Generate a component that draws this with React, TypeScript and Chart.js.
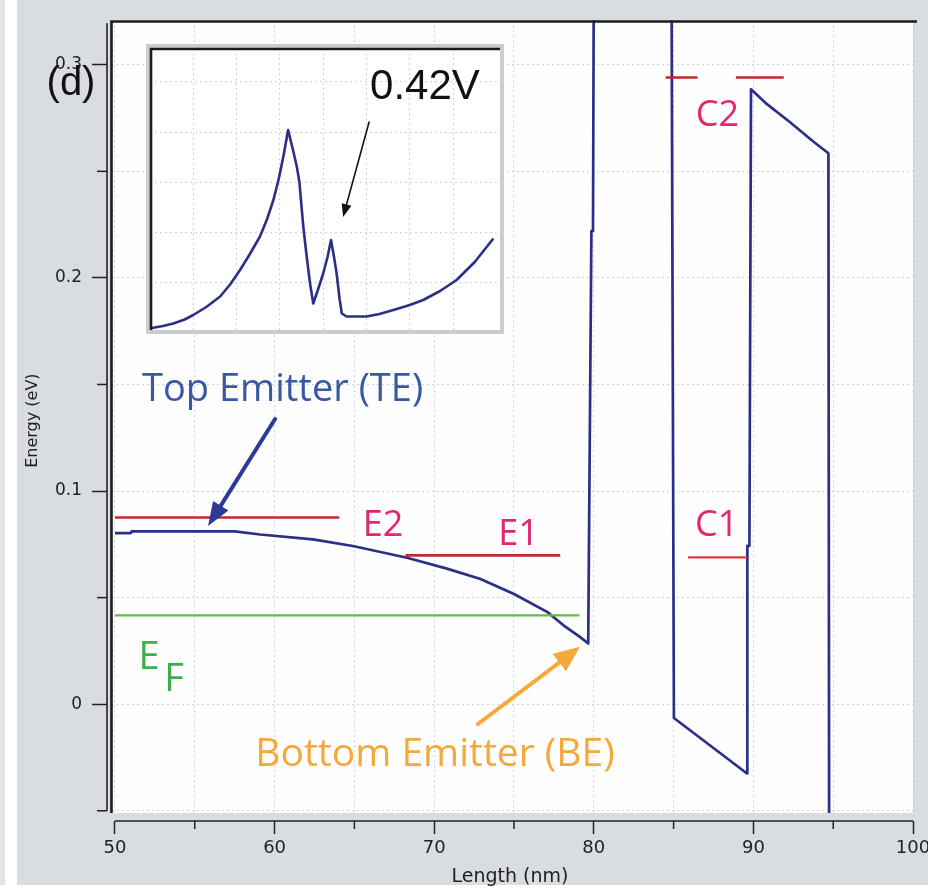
import React, { useEffect, useRef } from 'react';
import { Chart, registerables } from 'chart.js';

Chart.register(...registerables);

// ---------- data (Length in nm, Energy in eV) ----------
const bandX = [50, 51, 51.05, 57.5, 59.1, 62.4, 64.9, 68.3, 70.8, 72.9, 75.0, 77.1, 78.1, 79.13, 79.65, 79.85, 79.95, 80.0, 84.87, 85.02, 89.6, 89.62, 89.75, 89.85, 90.85, 92.3, 93.75, 94.7, 94.75];
const bandY = [0.0803, 0.0803, 0.0811, 0.0811, 0.0796, 0.0773, 0.0742, 0.0687, 0.0636, 0.0587, 0.0517, 0.0432, 0.037, 0.0316, 0.0285, 0.222, 0.222, 0.34, 0.34, -0.0065, -0.0325, 0.0743, 0.0743, 0.2885, 0.2815, 0.273, 0.264, 0.2585, -0.09];

const efX = [50, 79.1];
const efY = [0.0417, 0.0417];
const e2X = [50, 64.05];
const e2Y = [0.0876, 0.0876];
const e1X = [68.2, 77.9];
const e1Y = [0.0698, 0.0698];
const c1X = [85.9, 89.6];
const c1Y = [0.0689, 0.0689];
const c2aX = [84.5, 86.5];
const c2bX = [88.9, 91.9];
const c2Y = [0.294, 0.294];

// inset (arbitrary units)
const insetX = [0.04, 0.3, 0.54, 0.8, 1.0, 1.3, 1.62, 1.85, 2.08, 2.3, 2.54, 2.7, 2.85, 2.97, 3.08, 3.19, 3.3, 3.39, 3.45, 3.54, 3.62, 3.7, 3.77, 3.88, 4.0, 4.1, 4.18, 4.25, 4.31, 4.38, 4.43, 4.54, 5.0, 5.3, 5.62, 6.0, 6.31, 6.7, 7.08, 7.5, 7.93];
const insetY = [0.08, 0.12, 0.17, 0.25, 0.34, 0.5, 0.71, 0.95, 1.24, 1.55, 1.91, 2.25, 2.64, 3.05, 3.51, 4.04, 3.65, 3.31, 3.0, 2.11, 1.5, 0.95, 0.57, 0.85, 1.17, 1.5, 1.84, 1.5, 1.17, 0.65, 0.37, 0.31, 0.31, 0.36, 0.44, 0.54, 0.64, 0.82, 1.04, 1.4, 1.87];
const insetGridX = [1, 2, 3, 4, 5, 6, 7];
const insetGridY = [1, 2, 3, 4, 5];

// axes
const xTickValues = [50, 55, 60, 65, 70, 75, 80, 85, 90, 95, 100];
const xTickLabels = ['50', '', '60', '', '70', '', '80', '', '90', '', '100'];
const yTickValues = [-0.05, 0, 0.05, 0.1, 0.15, 0.2, 0.25, 0.3];
const yTickLabels = ['', '0', '', '0.1', '', '0.2', '', '0.3'];

// annotation labels (anchored in data coords, x centre / text baseline)
const levelLabels = ['E2', 'E1', 'C2', 'C1'];
const levelLabelX = [66.79, 75.28, 87.75, 87.7];
const levelLabelY = [0.079, 0.0748, 0.2712, 0.0788];

const NAVY = '#2b2f86';
const RED = '#bf2a2e';
const C1RED = '#e23a44';
const PINK = '#e2266f';
const GREEN = '#62bb47';
const GREEN_TXT = '#3cae4a';
const BLUE_TXT = '#3a57a5';
const ORANGE = '#f6a83b';
const PANEL = '#d9dce0';
const GRID = 'rgba(165,165,165,0.5)';

function lineDs(xs: number[], ys: number[], color: string, width: number) {
  return {
    data: xs.map((x, i) => ({ x, y: ys[i] })),
    showLine: true,
    borderColor: color,
    backgroundColor: color,
    borderWidth: width,
    pointRadius: 0,
    pointHoverRadius: 0,
    fill: false,
    tension: 0,
    borderJoinStyle: 'round',
    clip: { left: 0, top: 0, right: 0, bottom: -8 },
  };
}

function arrow(ctx: CanvasRenderingContext2D, x1: number, y1: number, x2: number, y2: number, color: string, w: number, hl: number, hw: number) {
  const ang = Math.atan2(y2 - y1, x2 - x1);
  const bx = x2 - hl * Math.cos(ang);
  const by = y2 - hl * Math.sin(ang);
  ctx.save();
  ctx.strokeStyle = color;
  ctx.fillStyle = color;
  ctx.lineWidth = w;
  ctx.lineCap = 'round';
  ctx.beginPath();
  ctx.moveTo(x1, y1);
  ctx.lineTo(bx + Math.cos(ang) * 2, by + Math.sin(ang) * 2);
  ctx.stroke();
  ctx.beginPath();
  ctx.moveTo(x2, y2);
  ctx.lineTo(bx + hw * Math.sin(ang), by - hw * Math.cos(ang));
  ctx.lineTo(bx - hw * Math.sin(ang), by + hw * Math.cos(ang));
  ctx.closePath();
  ctx.fill();
  ctx.restore();
}

function text(ctx: CanvasRenderingContext2D, s: string, x: number, y: number, color: string, font: string) {
  ctx.save();
  ctx.fillStyle = color;
  ctx.font = font;
  ctx.textAlign = 'center';
  ctx.textBaseline = 'alphabetic';
  ctx.fillText(s, x, y);
  ctx.restore();
}

const mainDecor = {
  id: 'mainDecor',
  beforeDraw(chart: any) {
    const { ctx, chartArea: a, width, height } = chart;
    ctx.save();
    ctx.fillStyle = '#ffffff';
    ctx.fillRect(0, 0, width, height);
    ctx.fillStyle = '#e2e4e7';
    ctx.fillRect(0, 0, 5, height - 10);
    ctx.fillStyle = PANEL;
    ctx.fillRect(17, 0, width - 17, 885);
    ctx.fillStyle = '#fefefe';
    ctx.fillRect(a.left + 5, a.top, a.right - a.left - 5, a.bottom - 8 - a.top);
    ctx.restore();
  },
  beforeDatasetsDraw(chart: any) {
    const { ctx, chartArea: a } = chart;
    const sx = chart.scales.x;
    const sy = chart.scales.y;
    ctx.save();
    ctx.fillStyle = PANEL;
    ctx.fillRect(a.left, a.top, 5, a.bottom - a.top);
    ctx.fillRect(a.left, a.bottom - 8, a.right - a.left + 4, 8);
    // axis lines
    ctx.strokeStyle = '#222';
    ctx.lineWidth = 1.6;
    ctx.beginPath();
    ctx.moveTo(a.left, a.top + 3);
    ctx.lineTo(a.left, sy.getPixelForValue(yTickValues[0]));
    ctx.stroke();
    ctx.beginPath();
    ctx.moveTo(sx.getPixelForValue(xTickValues[0]), a.bottom);
    ctx.lineTo(sx.getPixelForValue(xTickValues[xTickValues.length - 1]), a.bottom);
    ctx.stroke();
    // minor ticks
    ctx.lineWidth = 1.5;
    yTickValues.forEach((v, i) => {
      if (yTickLabels[i]) return;
      const p = sy.getPixelForValue(v);
      ctx.beginPath();
      ctx.moveTo(a.left - 10, p);
      ctx.lineTo(a.left, p);
      ctx.stroke();
    });
    xTickValues.forEach((v, i) => {
      if (xTickLabels[i]) return;
      const p = sx.getPixelForValue(v);
      ctx.beginPath();
      ctx.moveTo(p, a.bottom);
      ctx.lineTo(p, a.bottom + 8);
      ctx.stroke();
    });
    ctx.restore();
  },
  afterDatasetsDraw(chart: any) {
    const { ctx, chartArea: a } = chart;
    const sx = chart.scales.x;
    const sy = chart.scales.y;
    const px = (v: number) => sx.getPixelForValue(v);
    const py = (v: number) => sy.getPixelForValue(v);
    ctx.save();
    // frame (top / left)
    ctx.strokeStyle = '#1c1c1c';
    ctx.lineWidth = 2.6;
    ctx.beginPath();
    ctx.moveTo(a.left + 4.5, a.bottom - 8);
    ctx.lineTo(a.left + 4.5, a.top + 1.3);
    ctx.lineTo(a.right + 4, a.top + 1.3);
    ctx.stroke();
    ctx.restore();

    // level labels
    levelLabels.forEach((s, i) => {
      text(ctx, s, px(levelLabelX[i]), py(levelLabelY[i]), PINK, '36px "Open Sans"');
    });
    // Fermi level label
    text(ctx, 'E', px(52.13), py(0.0163), GREEN_TXT, '38px "Open Sans"');
    text(ctx, 'F', px(53.7), py(0.006), GREEN_TXT, '38px "Open Sans"');
    // emitter labels
    text(ctx, 'Top Emitter (TE)', px(60.5), py(0.1421), BLUE_TXT, '38px "Open Sans"');
    text(ctx, 'Bottom Emitter (BE)', px(70.05), py(-0.0288), ORANGE, '39px "Open Sans"');
    arrow(ctx, px(60.03), py(0.1338), px(55.83), py(0.0836), '#2c3b95', 4, 24, 9);
    arrow(ctx, px(72.74), py(-0.0093), px(79.14), py(0.0269), ORANGE, 4, 26, 11);
    // panel tag
    text(ctx, '(d)', 71, 95, '#111', '40px "Liberation Sans"');
  },
};

const insetDecor = {
  id: 'insetDecor',
  beforeDraw(chart: any) {
    const { ctx, chartArea: a, width, height } = chart;
    ctx.save();
    ctx.fillStyle = '#c9ccd0';
    ctx.fillRect(0, 0, width, height);
    ctx.fillStyle = '#ffffff';
    ctx.fillRect(a.left, a.top, a.right - a.left, a.bottom - a.top);
    ctx.restore();
  },
  afterDraw(chart: any) {
    const { ctx, chartArea: a } = chart;
    const sx = chart.scales.x;
    const sy = chart.scales.y;
    ctx.save();
    ctx.strokeStyle = '#1c1c1c';
    ctx.lineWidth = 2.6;
    ctx.beginPath();
    ctx.moveTo(a.left + 1, a.bottom);
    ctx.lineTo(a.left + 1, a.top + 1);
    ctx.lineTo(a.right, a.top + 1);
    ctx.stroke();
    ctx.restore();
    text(ctx, '0.42V', sx.getPixelForValue(6.35), sy.getPixelForValue(4.67), '#111', '42px "Liberation Sans"');
    arrow(ctx, sx.getPixelForValue(5.06), sy.getPixelForValue(4.2), sx.getPixelForValue(4.46), sy.getPixelForValue(2.3), '#111', 1.6, 13, 5);
  },
};

export default function App() {
  const mainRef = useRef<HTMLCanvasElement>(null);
  const insetRef = useRef<HTMLCanvasElement>(null);

  useEffect(() => {
    const tickFontX = { family: 'DejaVu Sans', size: 18 };
    const tickFontY = { family: 'DejaVu Sans', size: 17 };
    const main = new Chart(mainRef.current as HTMLCanvasElement, {
      type: 'scatter',
      data: {
        datasets: [
          lineDs(efX, efY, GREEN, 2.2),
          lineDs(e2X, e2Y, RED, 2.6),
          lineDs(e1X, e1Y, RED, 2.6),
          lineDs(c1X, c1Y, C1RED, 2.2),
          lineDs(c2aX, c2Y, RED, 2.6),
          lineDs(c2bX, c2Y, RED, 2.6),
          lineDs(bandX, bandY, NAVY, 2.7),
        ] as any,
      },
      options: {
        responsive: false,
        animation: false,
        events: [],
        layout: { padding: { left: 17, top: 12, right: 15, bottom: 0 } },
        plugins: { legend: { display: false }, tooltip: { enabled: false } },
        scales: {
          x: {
            type: 'linear',
            min: 49.5,
            max: 100,
            afterBuildTicks: (s: any) => { s.ticks = xTickValues.map((v) => ({ value: v })); },
            afterFit: (s: any) => { s.height = 74; s.paddingLeft = 0; s.paddingRight = 0; },
            ticks: {
              autoSkip: false,
              maxRotation: 0,
              padding: 4,
              color: '#222',
              font: tickFontX,
              callback: (_v: any, i: number) => xTickLabels[i],
            },
            grid: {
              color: GRID,
              lineWidth: 1,
              drawTicks: true,
              tickLength: 13,
              tickWidth: 1.5,
              tickBorderDash: [],
              tickColor: (c: any) => (xTickLabels[c.index] ? '#222' : 'rgba(0,0,0,0)'),
            },
            border: { display: false, dash: [2, 3] },
            title: { display: true, text: 'Length (nm)', color: '#222', font: { family: 'DejaVu Sans', size: 19 }, padding: { top: 0, bottom: 7 } },
          },
          y: {
            type: 'linear',
            min: -0.0548,
            max: 0.3209,
            afterBuildTicks: (s: any) => { s.ticks = yTickValues.map((v) => ({ value: v })); },
            afterFit: (s: any) => { s.width = 90; },
            ticks: {
              autoSkip: false,
              padding: 10,
              color: '#222',
              font: tickFontY,
              callback: (_v: any, i: number) => yTickLabels[i],
            },
            grid: {
              color: GRID,
              lineWidth: 1,
              drawTicks: true,
              tickLength: 15,
              tickWidth: 1.5,
              tickBorderDash: [],
              tickColor: (c: any) => (yTickLabels[c.index] ? '#222' : 'rgba(0,0,0,0)'),
            },
            border: { display: false, dash: [2, 3] },
            title: { display: true, text: 'Energy (eV)', color: '#222', font: { family: 'DejaVu Sans', size: 16 }, padding: { top: 6, bottom: 0 } },
          },
        },
      } as any,
      plugins: [mainDecor as any],
    });

    const inset = new Chart(insetRef.current as HTMLCanvasElement, {
      type: 'scatter',
      data: {
        datasets: [
          {
            data: insetX.map((x, i) => ({ x, y: insetY[i] })),
            showLine: true,
            borderColor: NAVY,
            borderWidth: 2.6,
            pointRadius: 0,
            tension: 0,
            borderJoinStyle: 'round',
          },
        ] as any,
      },
      options: {
        responsive: false,
        animation: false,
        events: [],
        layout: { padding: 4 },
        plugins: { legend: { display: false }, tooltip: { enabled: false } },
        scales: {
          x: {
            type: 'linear',
            min: 0,
            max: 8.083,
            afterBuildTicks: (s: any) => { s.ticks = insetGridX.map((v) => ({ value: v })); },
            afterFit: (s: any) => { s.height = 0; s.paddingLeft = 0; s.paddingRight = 0; },
            ticks: { display: false },
            grid: { color: GRID, drawTicks: false },
            border: { display: false, dash: [2, 3] },
          },
          y: {
            type: 'linear',
            min: 0.04,
            max: 5.68,
            afterBuildTicks: (s: any) => { s.ticks = insetGridY.map((v) => ({ value: v })); },
            afterFit: (s: any) => { s.width = 0; s.paddingTop = 0; s.paddingBottom = 0; },
            ticks: { display: false },
            grid: { color: GRID, drawTicks: false },
            border: { display: false, dash: [2, 3] },
          },
        },
      } as any,
      plugins: [insetDecor as any],
    });

    return () => {
      main.destroy();
      inset.destroy();
    };
  }, []);

  return (
    <div style={{ position: 'absolute', left: 0, top: 0, width: 928, height: 895, background: '#fff' }}>
      <canvas ref={mainRef} width={928} height={895} style={{ position: 'absolute', left: 0, top: 0, display: 'block' }} />
      <canvas ref={insetRef} width={358} height={290} style={{ position: 'absolute', left: 146, top: 44, display: 'block' }} />
    </div>
  );
}
